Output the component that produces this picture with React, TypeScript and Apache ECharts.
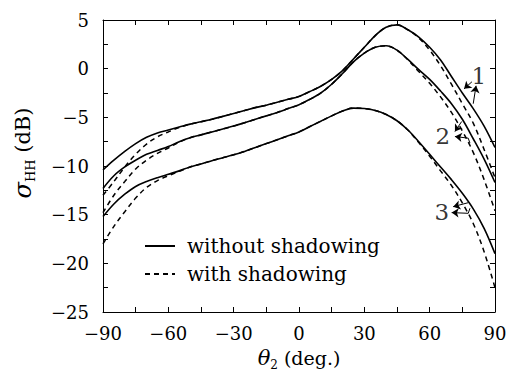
import React, { useEffect, useRef } from "react";
import * as echarts from "echarts";

// incidence/scattering angle grid (deg.)
const theta = [-90, -85, -80, -75, -70, -65, -60, -55, -50, -45, -40, -35, -30, -25, -20, -15, -10, -5, 0, 5, 10, 15, 20, 25, 30, 35, 40, 45, 50, 55, 60, 65, 70, 75, 80, 85, 90];

// sigma_HH (dB) — without shadowing (solid)
const solid1 = [-10.4, -9.4, -8.5, -7.7, -7.05, -6.6, -6.3, -6.0, -5.7, -5.45, -5.2, -4.9, -4.6, -4.3, -4.0, -3.75, -3.45, -3.15, -2.85, -2.35, -1.8, -1.1, -0.2, 1.0, 2.2, 3.4, 4.25, 4.5, 4.0, 3.25, 2.2, 0.9, -0.8, -2.5, -4.1, -5.9, -8.1];
const solid2 = [-12.3, -11.0, -10.1, -9.4, -8.8, -8.4, -8.0, -7.5, -7.1, -6.8, -6.5, -6.2, -5.9, -5.55, -5.2, -4.85, -4.5, -4.1, -3.7, -3.15, -2.5, -1.6, -0.5, 0.7, 1.6, 2.2, 2.35, 1.9, 0.95, -0.1, -1.1, -2.3, -3.6, -5.2, -7.2, -9.3, -11.7];
const solid3 = [-15.2, -13.9, -12.9, -12.1, -11.6, -11.2, -10.85, -10.5, -10.1, -9.8, -9.45, -9.15, -8.85, -8.5, -8.1, -7.7, -7.3, -6.9, -6.5, -5.95, -5.4, -4.85, -4.35, -4.05, -4.1, -4.3, -4.7, -5.35, -6.3, -7.5, -8.8, -10.1, -11.4, -12.8, -14.4, -16.4, -19.0];

// sigma_HH (dB) — with shadowing (dashed)
const dashed1 = [-13.0, -11.6, -10.1, -8.8, -7.75, -7.0, -6.5, -6.05, -5.7, -5.45, -5.2, -4.9, -4.6, -4.3, -4.0, -3.75, -3.45, -3.15, -2.85, -2.35, -1.8, -1.1, -0.2, 1.0, 2.2, 3.4, 4.25, 4.5, 4.0, 3.15, 1.9, 0.3, -1.6, -3.6, -5.6, -8.3, -11.2];
const dashed2 = [-14.8, -13.0, -11.6, -10.3, -9.4, -8.7, -8.15, -7.55, -7.1, -6.8, -6.5, -6.2, -5.9, -5.55, -5.2, -4.85, -4.5, -4.1, -3.7, -3.15, -2.5, -1.6, -0.5, 0.7, 1.6, 2.2, 2.35, 1.9, 0.9, -0.3, -1.5, -2.9, -4.5, -6.4, -8.6, -11.4, -14.6];
const dashed3 = [-18.0, -16.2, -14.7, -13.3, -12.2, -11.5, -11.0, -10.55, -10.1, -9.8, -9.45, -9.15, -8.85, -8.5, -8.1, -7.7, -7.3, -6.9, -6.5, -5.95, -5.4, -4.85, -4.35, -4.05, -4.1, -4.3, -4.7, -5.35, -6.3, -7.6, -9.0, -10.5, -12.0, -13.8, -15.9, -18.8, -22.5];

const legendNames = ["without shadowing", "with shadowing"];

// curve number labels [theta, dB, text]
const curveLabels: [number, number, string][] = [
  [82.6, -0.8, "1"],
  [66.0, -6.9, "2"],
  [65.6, -14.75, "3"],
];

// annotation arrows: [from, to, hasHead]
const arrows: [[number, number], [number, number], boolean][] = [
  [[79.4, -1.35], [75.8, -2.07], true],
  [[80.0, -3.6], [81.3, -1.76], true],
  [[74.7, -5.43], [71.6, -6.46], true],
  [[78.5, -7.65], [77.7, -7.14], false],
  [[77.7, -7.14], [71.6, -6.97], true],
  [[77.7, -13.77], [70.8, -14.18], true],
  [[78.5, -14.34], [77.7, -14.86], false],
  [[77.7, -14.86], [70.1, -14.79], true],
];

const FONT = "'DejaVu Serif', serif";

export default function App() {
  const ref = useRef<HTMLDivElement>(null);
  useEffect(() => {
    const chart = echarts.init(ref.current!, undefined, { renderer: "svg" });
    const pair = (ys: number[]) => theta.map((x, i) => [x, ys[i]]);
    const solidStyle = { color: "#000", width: 1.6, type: "solid" as const };
    const dashStyle = { color: "#000", width: 1.5, type: [5, 4] as any };
    const curve = (name: string, ys: number[], dashed: boolean) => ({
      type: "line",
      name,
      data: pair(ys),
      symbol: "none",
      smooth: 0.35,
      silent: true,
      z: dashed ? 2 : 3,
      lineStyle: dashed ? dashStyle : solidStyle,
      itemStyle: { color: "#000" },
    });
    const minus = (v: number) => String(v).replace("-", "\u2212");
    const tickCommon = {
      axisLine: { show: true, onZero: false, lineStyle: { color: "#000", width: 1 } },
      axisTick: { show: true, inside: true, length: 5, lineStyle: { color: "#000", width: 1 } },
      minorTick: { show: true, splitNumber: 2, length: 5, lineStyle: { color: "#000", width: 1 } },
      splitLine: { show: false },
      minorSplitLine: { show: false },
    };
    const labelStyle = { fontFamily: FONT, fontSize: 18, color: "#000" };
    const richX = {
      t: { fontFamily: FONT, fontSize: 21, fontStyle: "italic", color: "#000", lineHeight: 26 },
      s: { fontFamily: FONT, fontSize: 12, color: "#000", lineHeight: 13, verticalAlign: "bottom" },
      n: { fontFamily: FONT, fontSize: 19, color: "#000", lineHeight: 26 },
    };
    const richY = {
      p: { width: 26, lineHeight: 28 },
      t: { fontFamily: FONT, fontSize: 24, fontStyle: "italic", color: "#000", lineHeight: 28 },
      s: { fontFamily: FONT, fontSize: 13, color: "#000", lineHeight: 14, verticalAlign: "bottom" },
      n: { fontFamily: FONT, fontSize: 21, color: "#000", lineHeight: 28 },
    };

    chart.setOption({
      animation: false,
      backgroundColor: "#fff",
      grid: { left: 103, right: 15, top: 20, bottom: 74 },
      legend: {
        data: legendNames,
        orient: "vertical",
        left: 139,
        top: 231,
        itemWidth: 30,
        itemHeight: 14,
        itemGap: 8,
        selectedMode: false,
        itemStyle: { opacity: 0, borderWidth: 0 },
        textStyle: { fontFamily: FONT, fontSize: 20, color: "#000", lineHeight: 20, padding: [0, 0, 0, 7] },
      },
      xAxis: [
        {
          type: "value",
          min: -90,
          max: 90,
          interval: 30,
          position: "bottom",
          ...tickCommon,
          axisLabel: { ...labelStyle, margin: 12, formatter: minus },
          name: "{t|θ}{s|2}{n| (deg.)}",
          nameLocation: "middle",
          nameGap: 33,
          nameTextStyle: { rich: richX },
        },
        {
          type: "value",
          min: -90,
          max: 90,
          interval: 30,
          position: "top",
          ...tickCommon,
          axisLabel: { show: false },
        },
      ],
      yAxis: [
        {
          type: "value",
          min: -25,
          max: 5,
          interval: 5,
          position: "left",
          ...tickCommon,
          axisLabel: { ...labelStyle, margin: 14, formatter: minus },
          name: "{p| }{t|σ}{s|HH}{n| (dB)}",
          nameLocation: "middle",
          nameRotate: 90,
          nameGap: 66,
          nameTextStyle: { rich: richY },
        },
        {
          type: "value",
          min: -25,
          max: 5,
          interval: 5,
          position: "right",
          ...tickCommon,
          axisLabel: { show: false },
        },
      ],
      series: [
        curve(legendNames[1], dashed1, true),
        curve(legendNames[1], dashed2, true),
        curve(legendNames[1], dashed3, true),
        curve(legendNames[0], solid1, false),
        curve(legendNames[0], solid2, false),
        curve(legendNames[0], solid3, false),
        {
          type: "line",
          name: "arrows",
          data: [],
          symbol: "none",
          silent: true,
          z: 5,
          markLine: {
            silent: true,
            animation: false,
            symbolSize: 7,
            label: { show: false },
            lineStyle: { color: "#000", width: 1, type: "solid" },
            emphasis: { disabled: true },
            data: arrows.map(([a, b, head]) => [
              { coord: a, symbol: "none" },
              { coord: b, symbol: head ? "arrow" : "none" },
            ]),
          },
        },
        {
          type: "scatter",
          name: "labels",
          data: curveLabels,
          symbolSize: 1,
          silent: true,
          z: 6,
          itemStyle: { color: "rgba(0,0,0,0)" },
          label: {
            show: true,
            position: "inside",
            formatter: (p: any) => p.value[2],
            fontFamily: FONT,
            fontSize: 23,
            color: "#000",
          },
        },
      ],
    });
    return () => chart.dispose();
  }, []);
  return <div ref={ref} style={{ position: "fixed", left: 0, top: 0, width: 510, height: 386, background: "#fff" }} />;
}
